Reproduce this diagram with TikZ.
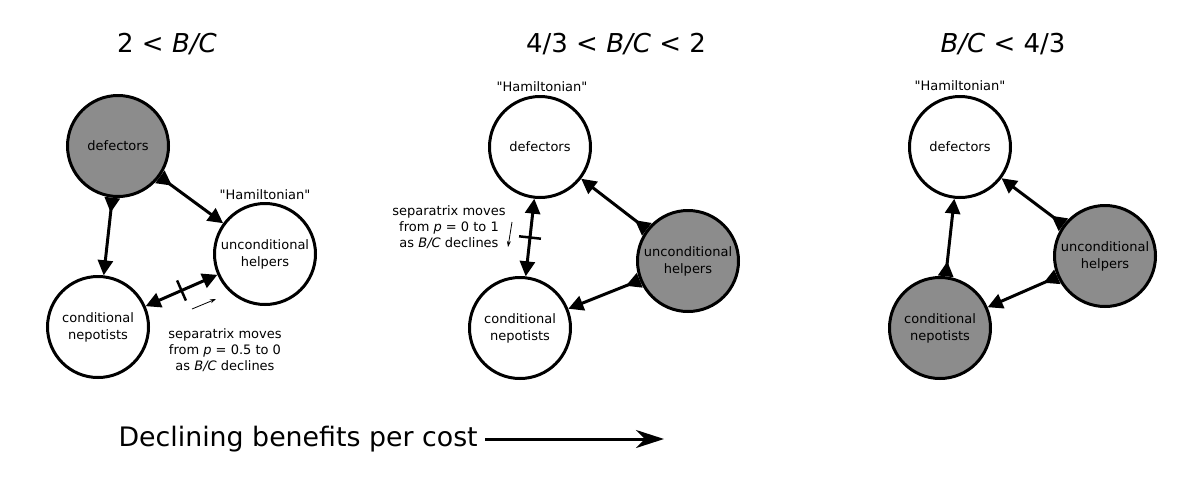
\documentclass[tikz,border=0pt]{standalone}
\usepackage{fontspec}
\setmainfont{DejaVu Sans}[Ligatures=TeXOff]
\usetikzlibrary{arrows.meta,calc}

\begin{document}
\begin{tikzpicture}[x=1pt,y=-1pt]
\tikzstyle{pop}=[circle,draw,line width=3pt,minimum size=101pt,inner sep=0pt,align=center,font=\fontsize{13}{17}\selectfont]
\tikzstyle{stable}=[pop,fill=black!45]
\tikzstyle{flow}=[line width=3pt,{Triangle[reversed,length=15pt,width=15pt]}-{Triangle[length=15pt,width=15pt]}]
\tikzstyle{sep}=[line width=3pt,{Triangle[length=15pt,width=15pt]}-{Triangle[length=15pt,width=15pt]}]
\tikzstyle{tickmark}=[line width=2.5pt]
\tikzstyle{drift}=[line width=0.8pt,-{Stealth[length=6pt,width=4pt]}]
\tikzstyle{note}=[align=center,font=\fontsize{13}{16}\selectfont]
\tikzstyle{title}=[font=\fontsize{26}{30}\selectfont]
\useasboundingbox (0,0) rectangle (1200,493);
% ========= titles
\node[title] (t1) at (167,44) {2 < \textit{B/C}};
\node[title] (t2) at (616,44) {4/3 < \textit{B/C} < 2};
\node[title] (t3) at (1003,44) {\textit{B/C} < 4/3};
% ========= B/C > 2
\node[stable] (def1) at (118,146) {defectors};
\node[pop] (help1) at (265,254) {unconditional\\helpers};
\node[pop] (nep1) at (98,327) {conditional\\nepotists};
\node[note] (ham1) at (265,195) {"Hamiltonian"};
\node[note] (sx1) at (225,350) {separatrix moves\\from \textit{p} = 0.5 to 0\\as \textit{B/C} declines};
\draw[flow] (def1) -- (nep1);
\draw[flow] (def1) -- (help1);
\draw[sep] (nep1) -- (help1);
\draw[tickmark] ($(nep1)!.5!(help1)!11pt!90:(help1)$) -- ($(nep1)!.5!(help1)!11pt!-90:(help1)$);
\coordinate (d1a) at (192,309);
\coordinate (d1b) at (216,299);
\draw[drift] (d1a) -- (d1b);
% ========= 4/3 < B/C < 2
\node[pop] (def2) at (540,147) {defectors};
\node[stable] (help2) at (688,261) {unconditional\\helpers};
\node[pop] (nep2) at (520,328) {conditional\\nepotists};
\node[note] (ham2) at (542,87) {"Hamiltonian"};
\node[note] (sx2) at (449,227) {separatrix moves\\from \textit{p} = 0 to 1\\as \textit{B/C} declines};
\draw[flow] (help2) -- (def2);
\draw[flow] (help2) -- (nep2);
\draw[sep] (def2) -- (nep2);
\draw[tickmark] ($(def2)!.5!(nep2)!11pt!90:(nep2)$) -- ($(def2)!.5!(nep2)!11pt!-90:(nep2)$);
\coordinate (d2a) at (512,222);
\coordinate (d2b) at (508,247);
\draw[drift] (d2a) -- (d2b);
% ========= B/C < 4/3
\node[pop] (def3) at (960,147) {defectors};
\node[stable] (help3) at (1105,256) {unconditional\\helpers};
\node[stable] (nep3) at (940,328) {conditional\\nepotists};
\node[note] (ham3) at (960,86) {"Hamiltonian"};
\draw[flow] (help3) -- (def3);
\draw[flow] (help3) -- (nep3);
\draw[flow] (nep3) -- (def3);
% ========= bottom arrow
\node[title, anchor=west, font=\fontsize{26.8}{30}\selectfont] (decl) at (115,439) {Declining benefits per cost};
\coordinate (declend) at (664,439);
\draw[line width=3pt,-{Stealth[length=28pt,width=18pt,inset=9pt]}] ([xshift=4pt]decl.east) -- (declend);
\end{tikzpicture}
\end{document}
